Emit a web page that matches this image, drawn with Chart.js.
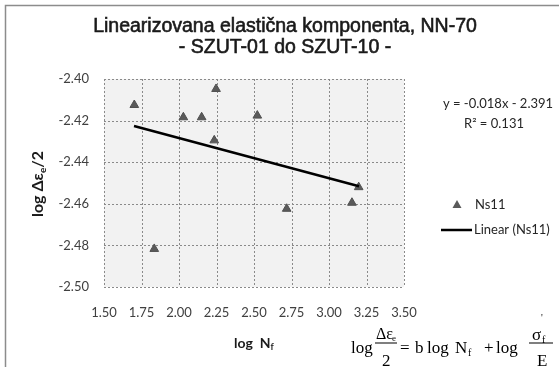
<!DOCTYPE html>
<html>
<head>
<meta charset="utf-8">
<script src="https://cdn.jsdelivr.net/npm/chart.js@4.4.0/dist/chart.umd.min.js"></script>
<style>
  html, body { margin: 0; padding: 0; background: #fff; }
  #wrap { width: 559px; height: 367px; position: relative; }
</style>
</head>
<body>
<div id="wrap"><canvas id="myChart" width="559" height="367"></canvas></div>
<script>
// data
var logNf  = [1.702, 1.835, 2.029, 2.151, 2.235, 2.247, 2.522, 2.718, 3.153, 3.198];
var logEps = [-2.4125, -2.4817, -2.4184, -2.4184, -2.4295, -2.4048, -2.4176, -2.4624, -2.4595, -2.4520];
// trend line end points (Linear (Ns11))
var trendX = [1.70, 3.20];
var trendY = [-2.4226, -2.4516];
var titleLines = ["Linearizovana elastična komponenta, NN-70", "- SZUT-01 do SZUT-10 -"];
var eqText = "y = -0.018x - 2.391";
var r2Text = "R² = 0.131";

var pts = [];
for (var i = 0; i < logNf.length; i++) {
  pts.push({ x: logNf[i], y: logEps[i] });
}
var trend = [];
for (var j = 0; j < trendX.length; j++) {
  trend.push({ x: trendX[j], y: trendY[j] });
}

var sans = "Lato, 'Open Sans', sans-serif";
var arial = "'Liberation Sans', Arial, sans-serif";
var serif = "'Liberation Serif', 'DejaVu Serif', serif";

/* background, plot area, grid and frame */
var bgPlugin = {
  id: 'bgPlugin',
  beforeDraw: function(chart) {
    var ctx = chart.ctx, a = chart.chartArea;
    ctx.save();
    ctx.fillStyle = '#fff';
    ctx.fillRect(0, 0, chart.width, chart.height);
    ctx.fillStyle = '#f2f2f2';
    ctx.fillRect(a.left, a.top, a.right - a.left, a.bottom - a.top);
    ctx.strokeStyle = '#8c8c8c';
    ctx.lineWidth = 1.5;
    ctx.strokeRect(5.5, 5.5, 600, 400);
    ctx.restore();
  },
  beforeDatasetsDraw: function(chart) {
    var ctx = chart.ctx, a = chart.chartArea;
    var xs = chart.scales.x, ys = chart.scales.y;
    ctx.save();
    ctx.strokeStyle = '#8a8a8a';
    ctx.lineWidth = 1;
    ctx.setLineDash([2, 2]);
    xs.ticks.forEach(function(t) {
      var px = Math.round(xs.getPixelForValue(t.value)) + 0.5;
      ctx.beginPath();
      ctx.moveTo(px, a.top);
      ctx.lineTo(px, a.bottom);
      ctx.stroke();
    });
    ys.ticks.forEach(function(t) {
      var py = Math.round(ys.getPixelForValue(t.value)) + 0.5;
      ctx.beginPath();
      ctx.moveTo(a.left, py);
      ctx.lineTo(a.right, py);
      ctx.stroke();
    });
    ctx.restore();
  },
  afterDraw: function(chart) {
    var ctx = chart.ctx;
    ctx.save();

    // title
    ctx.fillStyle = '#1a1a1a';
    ctx.strokeStyle = '#1a1a1a';
    ctx.lineWidth = 0.6;
    ctx.textAlign = 'center';
    ctx.textBaseline = 'middle';
    ctx.font = "19.5px " + arial;
    ctx.fillText(titleLines[0], 285, 27);
    ctx.strokeText(titleLines[0], 285, 27);
    ctx.fillText(titleLines[1], 285, 48);
    ctx.strokeText(titleLines[1], 285, 48);

    // y axis title (rotated)
    ctx.save();
    ctx.translate(38, 184);
    ctx.rotate(-Math.PI / 2);
    ctx.font = "bold 16px " + sans;
    ctx.textAlign = 'left';
    var p1 = "log Δε";
    var w1 = ctx.measureText(p1).width;
    ctx.font = "bold 10px " + sans;
    var w2 = ctx.measureText("e").width;
    ctx.font = "bold 16px " + sans;
    var w3 = ctx.measureText("/2").width;
    var sx = -(w1 + w2 + w3) / 2;
    ctx.fillText(p1, sx, 0);
    ctx.font = "bold 10px " + sans;
    ctx.fillText("e", sx + w1, 5);
    ctx.font = "bold 16px " + sans;
    ctx.fillText("/2", sx + w1 + w2, 0);
    ctx.restore();

    // x axis title
    ctx.font = "bold 14px " + sans;
    ctx.textAlign = 'left';
    ctx.fillText("log  N", 234, 343);
    var wn = ctx.measureText("log  N").width;
    ctx.font = "bold 9px " + sans;
    ctx.fillText("f", 234 + wn, 347);

    // trend equation
    ctx.fillStyle = '#262626';
    ctx.font = "13px " + sans;
    ctx.textAlign = 'center';
    ctx.fillText(eqText, 498, 104);
    ctx.fillText(r2Text, 494, 124);

    // legend
    ctx.fillStyle = '#5a5a5a';
    ctx.beginPath();
    ctx.moveTo(457, 200);
    ctx.lineTo(461.5, 208);
    ctx.lineTo(452.5, 208);
    ctx.closePath();
    ctx.fill();
    ctx.fillStyle = '#262626';
    ctx.textAlign = 'left';
    ctx.fillText("Ns11", 475, 205);
    ctx.strokeStyle = '#000';
    ctx.lineWidth = 2.5;
    ctx.beginPath();
    ctx.moveTo(441, 230);
    ctx.lineTo(472, 230);
    ctx.stroke();
    ctx.fillText("Linear (Ns11)", 474, 230);

    // formula
    ctx.fillStyle = '#000';
    ctx.textBaseline = 'alphabetic';
    ctx.font = "17px " + serif;
    ctx.fillText("log", 351, 353);
    ctx.font = "16px " + serif;
    ctx.fillText("Δε", 376, 339);
    ctx.font = "9px " + serif;
    ctx.fillText("e", 392, 341);
    ctx.fillRect(375, 342.5, 22, 1);
    ctx.font = "17px " + serif;
    ctx.fillText("2", 382, 366);
    ctx.fillText("=", 400, 353);
    ctx.fillText("b", 415, 353);
    ctx.fillText("log", 427, 353);
    ctx.fillText("N", 455, 353);
    ctx.font = "10px " + serif;
    ctx.fillText("f", 468, 356);
    ctx.font = "17px " + serif;
    ctx.fillText("+", 484, 353);
    ctx.fillText("log", 496, 353);
    ctx.fillText("σ", 532, 340);
    ctx.font = "10px " + serif;
    ctx.fillText("'", 541, 321);
    ctx.fillText("f", 542, 343);
    ctx.fillRect(529, 342.5, 24, 1);
    ctx.font = "17px " + serif;
    ctx.fillText("E", 537, 366);
    ctx.restore();
  }
};

var canvas = document.getElementById('myChart');
var chart = new Chart(canvas, {
  type: 'scatter',
  data: {
    datasets: [
      {
        label: 'Ns11',
        data: pts,
        pointStyle: 'triangle',
        pointRadius: 5,
        pointBackgroundColor: '#5a5a5a',
        pointBorderColor: '#505050',
        pointBorderWidth: 1,
        order: 1
      },
      {
        label: 'Linear (Ns11)',
        data: trend,
        showLine: true,
        borderColor: '#000',
        borderWidth: 2.5,
        pointRadius: 0,
        order: 0
      }
    ]
  },
  options: {
    responsive: false,
    animation: false,
    devicePixelRatio: 1,
    layout: { padding: { left: 0, top: 79, right: 155, bottom: 0 } },
    plugins: {
      legend: { display: false },
      title: { display: false },
      tooltip: { enabled: false }
    },
    scales: {
      x: {
        type: 'linear',
        min: 1.5,
        max: 3.5,
        afterFit: function(s) { s.height = 80; },
        ticks: {
          stepSize: 0.25,
          padding: 18,
          color: '#404040',
          font: { family: sans, size: 13 },
          maxRotation: 0,
          callback: function(v) { return Number(v).toFixed(2); }
        },
        grid: { display: false, drawTicks: false },
        border: { display: false }
      },
      y: {
        type: 'linear',
        min: -2.50,
        max: -2.40,
        afterFit: function(s) { s.width = 104; },
        ticks: {
          stepSize: 0.02,
          padding: 15,
          color: '#404040',
          font: { family: sans, size: 13 },
          callback: function(v) { return Number(v).toFixed(2); }
        },
        grid: { display: false, drawTicks: false },
        border: { display: false }
      }
    }
  },
  plugins: [bgPlugin]
});
</script>
</body>
</html>
